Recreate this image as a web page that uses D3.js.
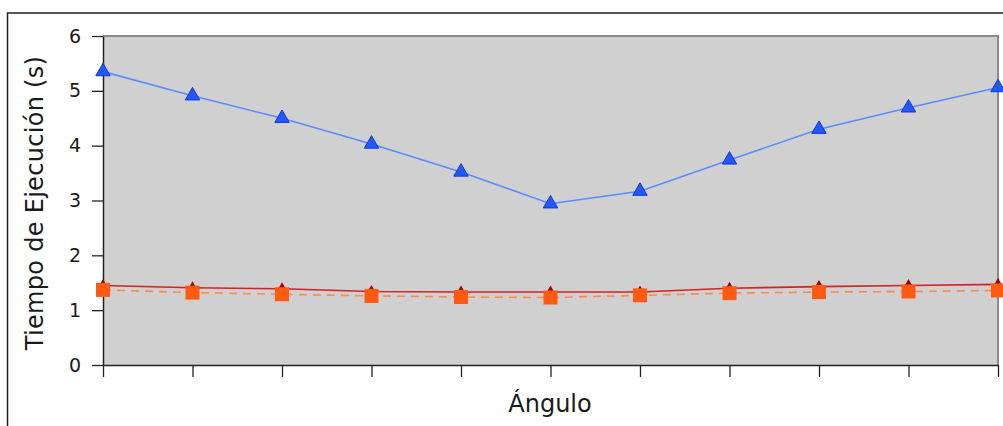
<!DOCTYPE html>
<html>
<head>
<meta charset="utf-8">
<script src="https://cdn.jsdelivr.net/npm/d3@7"></script>
<style>
  html, body { margin: 0; padding: 0; background: #fff; }
  svg { display: block; }
  text { font-family: "DejaVu Sans", sans-serif; fill: #1a1a1a; }
</style>
</head>
<body>
<svg id="chart" width="1003" height="426"></svg>
<script>
// Eleven measured angles (no labels shown on the axis)
const categories = ["1", "2", "3", "4", "5", "6", "7", "8", "9", "10", "11"];
// Execution times in seconds
const serieA = [5.35, 4.91, 4.50, 4.03, 3.52, 2.94, 3.17, 3.74, 4.30, 4.69, 5.06];
const serieB = [1.45, 1.41, 1.39, 1.34, 1.33, 1.33, 1.33, 1.40, 1.43, 1.45, 1.47];
const serieC = [1.37, 1.32, 1.29, 1.26, 1.24, 1.23, 1.27, 1.31, 1.33, 1.34, 1.36];
const yTicks = [0, 1, 2, 3, 4, 5, 6];

const svg = d3.select("#chart");
const plotLeft = 103, plotRight = 998, plotTop = 36, plotBottom = 365;

// Outer frame
svg.append("rect")
  .attr("x", 7.5).attr("y", 13).attr("width", 1100).attr("height", 500)
  .attr("fill", "none").attr("stroke", "#222").attr("stroke-width", 1.5);

const x = d3.scalePoint().domain(categories).range([plotLeft, plotRight]);
const y = d3.scaleLinear().domain([0, 6]).range([plotBottom, plotTop]);

// Plot background with grey top/right border
svg.append("rect")
  .attr("x", plotLeft).attr("y", plotTop)
  .attr("width", plotRight - plotLeft).attr("height", plotBottom - plotTop)
  .attr("fill", "#d0d0d0");
svg.append("path")
  .attr("d", `M${plotLeft},${plotTop}H${plotRight}V${plotBottom}`)
  .attr("fill", "none").attr("stroke", "#8a8a8a").attr("stroke-width", 2);

// Axes
const yAxis = svg.append("g")
  .attr("transform", `translate(${plotLeft},0)`)
  .call(d3.axisLeft(y).tickValues(yTicks).tickFormat(d3.format("d")).tickSize(11).tickSizeOuter(0).tickPadding(11));
const xAxis = svg.append("g")
  .attr("transform", `translate(0,${plotBottom})`)
  .call(d3.axisBottom(x).tickFormat(() => "").tickSize(12).tickSizeOuter(0));
[yAxis, xAxis].forEach(g => {
  g.select(".domain").attr("stroke", "#222").attr("stroke-width", 1.5);
  g.selectAll(".tick line").attr("stroke", "#222").attr("stroke-width", 1.3);
});
yAxis.selectAll(".tick text")
  .attr("font-size", 19).attr("font-family", "DejaVu Sans, sans-serif").attr("fill", "#1a1a1a");

// Axis titles
svg.append("text")
  .attr("x", 550).attr("y", 412).attr("text-anchor", "middle")
  .attr("font-size", 24).text("Ángulo");
svg.append("text")
  .attr("transform", "translate(43,203) rotate(-90)")
  .attr("text-anchor", "middle").attr("font-size", 24).attr("letter-spacing", 0.3)
  .text("Tiempo de Ejecución (s)");

const line = d3.line().x((d, i) => x(categories[i])).y(d => y(d));

// Series A: blue triangles
svg.append("path").datum(serieA).attr("d", line)
  .attr("fill", "none").attr("stroke", "#5a8cff").attr("stroke-width", 1.6);
svg.append("g").selectAll("path").data(serieA).join("path")
  .attr("d", d3.symbol(d3.symbolTriangle, 90))
  .attr("transform", (d, i) => `translate(${x(categories[i])},${y(d)})`)
  .attr("fill", "#2458ff").attr("stroke", "#1535d0").attr("stroke-width", 1);

// Series B: red line with dark red triangles
svg.append("path").datum(serieB).attr("d", line)
  .attr("fill", "none").attr("stroke", "#d42222").attr("stroke-width", 1.6);
svg.append("g").selectAll("path").data(serieB).join("path")
  .attr("d", d3.symbol(d3.symbolTriangle, 55))
  .attr("transform", (d, i) => `translate(${x(categories[i])},${y(d)})`)
  .attr("fill", "#a80000");

// Series C: orange dashed line with squares
svg.append("path").datum(serieC).attr("d", line)
  .attr("fill", "none").attr("stroke", "#ff8a50").attr("stroke-width", 1.6)
  .attr("stroke-dasharray", "8,6");
svg.append("g").selectAll("path").data(serieC).join("path")
  .attr("d", d3.symbol(d3.symbolSquare, 196))
  .attr("transform", (d, i) => `translate(${x(categories[i])},${y(d)})`)
  .attr("fill", "#ff5a12");
</script>
</body>
</html>
